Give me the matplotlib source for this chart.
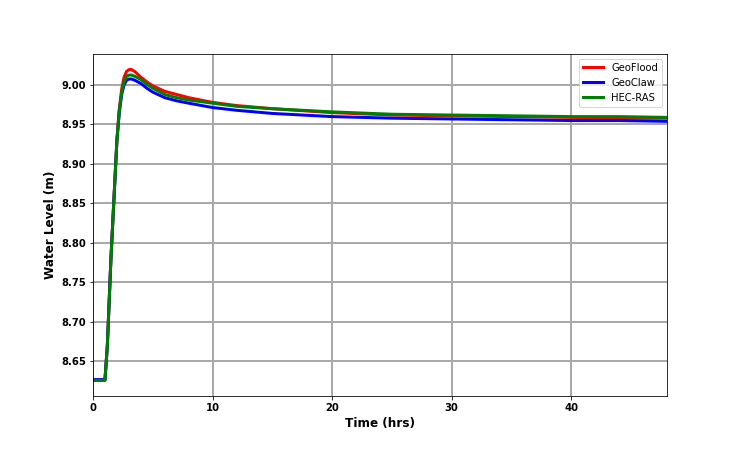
import numpy as np
import matplotlib
matplotlib.use("Agg")
import matplotlib.pyplot as plt

# time (hrs) and water levels (m)
t = [0, 1.0, 1.2, 1.5, 1.8, 2.0, 2.2, 2.4, 2.6, 2.8, 3.0, 3.2, 3.5, 4.0, 4.5, 5, 6, 7, 8,
     10, 12, 15, 20, 25, 30, 35, 40, 44, 48]
geoflood = [8.626, 8.626, 8.67, 8.78, 8.87, 8.93, 8.97, 8.995, 9.010, 9.017, 9.0195,
            9.0197, 9.017, 9.010, 9.004, 8.999, 8.992, 8.988, 8.984, 8.978, 8.974,
            8.970, 8.965, 8.962, 8.961, 8.960, 8.959, 8.958, 8.958]
geoclaw = [8.627, 8.627, 8.67, 8.78, 8.87, 8.93, 8.965, 8.988, 9.000, 9.006, 9.0075,
           9.0077, 9.006, 9.002, 8.996, 8.991, 8.984, 8.980, 8.977, 8.9715, 8.968,
           8.964, 8.960, 8.958, 8.957, 8.956, 8.955, 8.955, 8.954]
hecras = [8.626, 8.626, 8.67, 8.78, 8.87, 8.93, 8.968, 8.991, 9.004, 9.011, 9.0125,
          9.0127, 9.011, 9.007, 9.001, 8.996, 8.988, 8.984, 8.981, 8.977, 8.973,
          8.970, 8.966, 8.963, 8.962, 8.961, 8.960, 8.960, 8.959]

fig = plt.figure(figsize=(741/72, 453/72), dpi=72)
ax = fig.add_subplot(111)
fig.subplots_adjust(left=0.1255, right=0.9, top=0.881, bottom=0.126)

ax.plot(t, geoflood, color='red', lw=3, label='GeoFlood')
ax.plot(t, geoclaw, color='blue', lw=3, label='GeoClaw')
ax.plot(t, hecras, color='green', lw=3, label='HEC-RAS')

ax.set_xlim(0, 48)
ax.set_xticks([0, 10, 20, 30, 40])
ax.grid(True, color='darkgray', lw=2)
ax.set_axisbelow(True)
for lab in ax.get_xticklabels() + ax.get_yticklabels():
    lab.set_fontweight('bold')
ax.set_xlabel('Time (hrs)', fontweight='bold', fontsize=12)
ax.set_ylabel('Water Level (m)', fontweight='bold', fontsize=12)
ax.legend(loc='upper right')

fig.savefig('out.png', dpi=72)
